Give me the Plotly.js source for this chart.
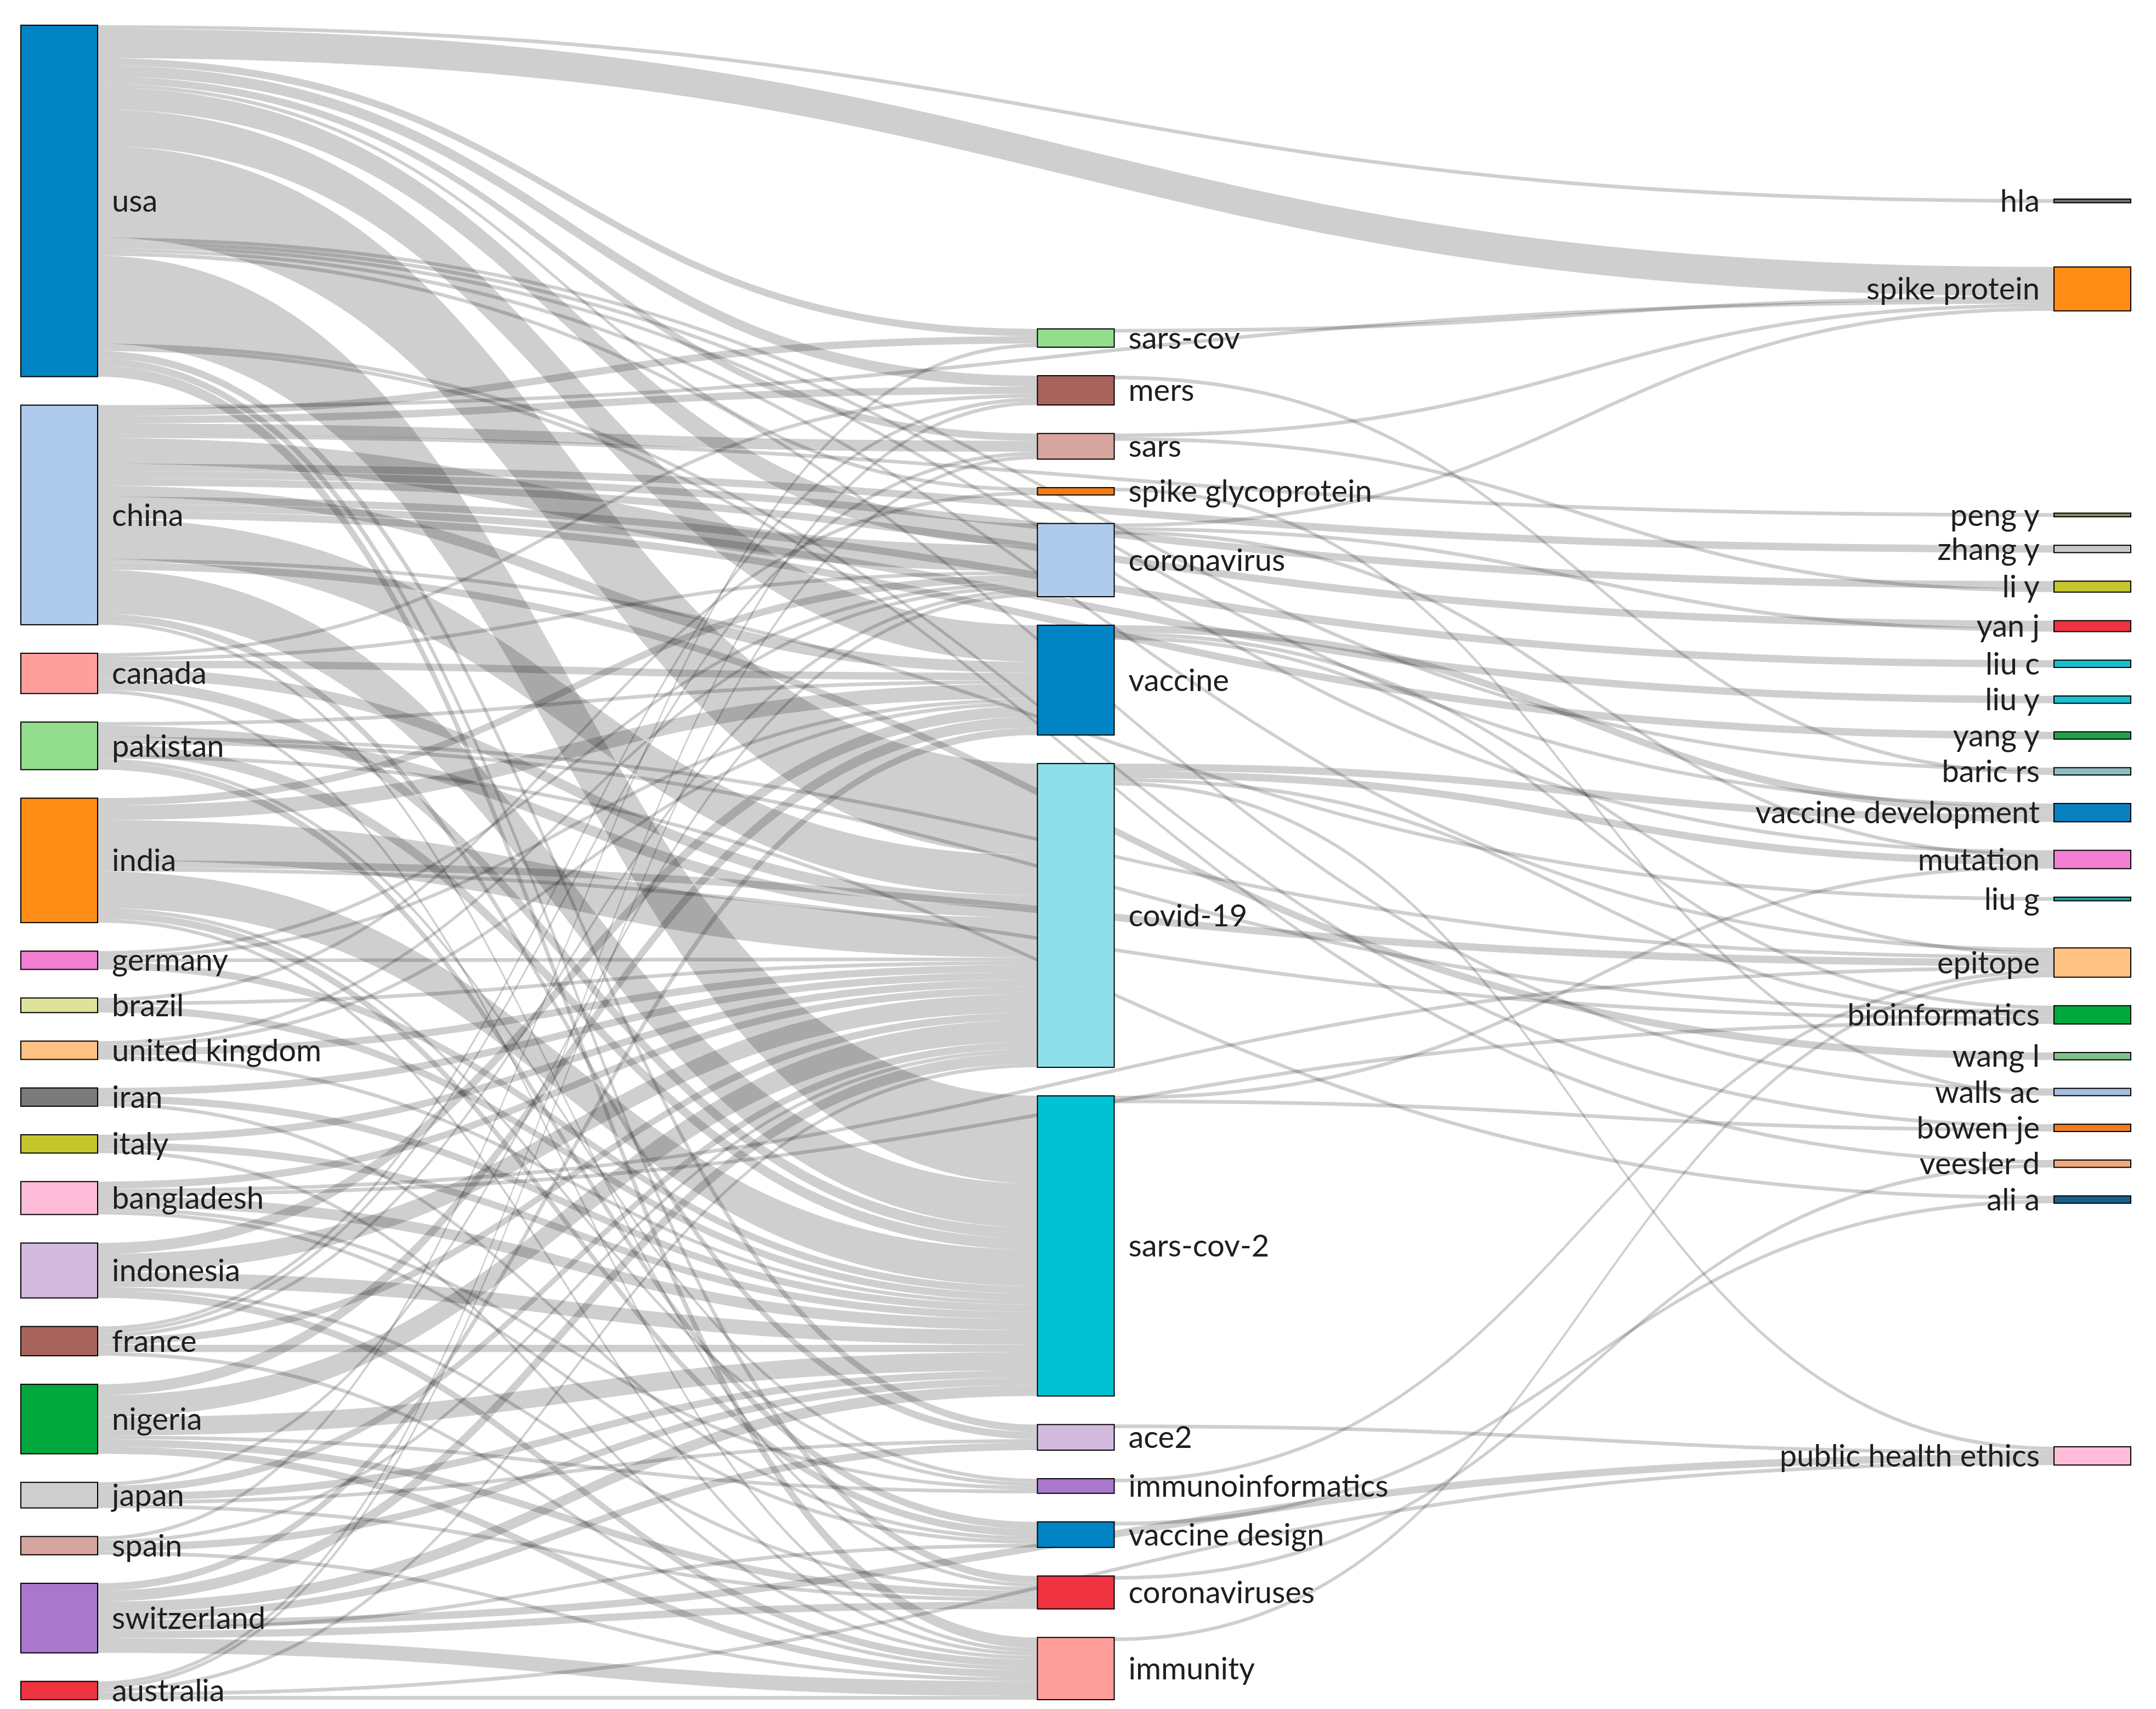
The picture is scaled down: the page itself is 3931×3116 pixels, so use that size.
<!DOCTYPE html>
<html>
<head>
<meta charset="utf-8">
<script src="https://cdn.plot.ly/plotly-3.0.1.min.js"></script>
<style>html,body{margin:0;padding:0;background:#ffffff;}</style>
</head>
<body>
<div id="chart" style="width:3931px;height:3116px;"></div>
<script>
// ---------------- DATA ----------------
const countries = ['usa','china','canada','pakistan','india','germany','brazil','united kingdom','iran','italy','bangladesh','indonesia','france','nigeria','japan','spain','switzerland','australia'];
const keywords = ['sars-cov','mers','sars','spike glycoprotein','coronavirus','vaccine','covid-19','sars-cov-2','ace2','immunoinformatics','vaccine design','coronaviruses','immunity'];
const topics = ['hla','spike protein','peng y','zhang y','li y','yan j','liu c','liu y','yang y','baric rs','vaccine development','mutation','liu g','epitope','bioinformatics','wang l','walls ac','bowen je','veesler d','ali a','public health ethics'];

// country -> keyword
const countryToKeyword = [
  ['usa','sars-cov',2],['usa','mers',3],['usa','sars',2],['usa','spike glycoprotein',1],['usa','coronavirus',6],['usa','vaccine',10],['usa','covid-19',25],['usa','sars-cov-2',24],['usa','ace2',2],['usa','coronaviruses',2],['usa','immunity',3],
  ['china','sars-cov',2],['china','mers',2],['china','sars',3],['china','coronavirus',7],['china','vaccine',3],['china','covid-19',11],['china','sars-cov-2',12],['china','ace2',2],['china','coronaviruses',1],
  ['canada','mers',1],['canada','coronavirus',1],['canada','vaccine',2],['canada','covid-19',3],['canada','sars-cov-2',3],['canada','immunity',1],
  ['pakistan','vaccine',1],['pakistan','covid-19',3],['pakistan','sars-cov-2',3],['pakistan','immunoinformatics',1],['pakistan','vaccine design',2],
  ['india','coronavirus',2],['india','vaccine',4],['india','covid-19',11],['india','sars-cov-2',10],['india','immunoinformatics',1],['india','vaccine design',2],['india','immunity',1],
  ['germany','coronavirus',1],['germany','vaccine',1],['germany','covid-19',1],['germany','sars-cov-2',2],
  ['brazil','spike glycoprotein',1],['brazil','covid-19',1],['brazil','sars-cov-2',2],
  ['united kingdom','coronavirus',1],['united kingdom','vaccine',1],['united kingdom','covid-19',2],['united kingdom','sars-cov-2',1],
  ['iran','covid-19',2],['iran','sars-cov-2',2],['iran','vaccine design',1],
  ['italy','covid-19',2],['italy','sars-cov-2',2],['italy','immunity',1],
  ['bangladesh','covid-19',2],['bangladesh','sars-cov-2',3],['bangladesh','immunoinformatics',1],['bangladesh','vaccine design',1],
  ['indonesia','vaccine',3],['indonesia','covid-19',5],['indonesia','sars-cov-2',4],['indonesia','coronaviruses',1],['indonesia','immunity',2],
  ['france','mers',1],['france','sars',1],['france','coronavirus',1],['france','covid-19',2],['france','sars-cov-2',2],['france','immunity',1],
  ['nigeria','vaccine',3],['nigeria','covid-19',6],['nigeria','sars-cov-2',5],['nigeria','immunoinformatics',1],['nigeria','coronaviruses',2],['nigeria','immunity',2],
  ['japan','coronavirus',1],['japan','covid-19',2],['japan','sars-cov-2',2],['japan','ace2',1],['japan','coronaviruses',1],
  ['spain','sars-cov',1],['spain','covid-19',1],['spain','sars-cov-2',2],['spain','immunity',1],
  ['switzerland','vaccine',2],['switzerland','covid-19',3],['switzerland','sars-cov-2',3],['switzerland','ace2',2],['switzerland','vaccine design',1],['switzerland','coronaviruses',2],['switzerland','immunity',4],
  ['australia','mers',1],['australia','sars',1],['australia','covid-19',1],['australia','immunity',1]
];

// keyword -> right field
const keywordToTopic = [
  ['sars-cov','spike protein',1],['mers','baric rs',1],['sars','li y',1],['sars','spike protein',1],['spike glycoprotein','walls ac',1],
  ['coronavirus','spike protein',1],['coronavirus','mutation',1],['coronavirus','yan j',1],
  ['vaccine','vaccine development',2],['vaccine','epitope',1],['vaccine','bioinformatics',1],
  ['covid-19','vaccine development',2],['covid-19','mutation',2],['covid-19','public health ethics',1],['covid-19','bioinformatics',1],
  ['sars-cov-2','mutation',1],['sars-cov-2','bowen je',1],
  ['ace2','public health ethics',1],['immunoinformatics','epitope',1],['vaccine design','ali a',1],['coronaviruses','veesler d',1],['immunity','epitope',1]
];

// country -> right field (direct)
const countryToTopic = [
  ['usa','hla',1],['usa','spike protein',8],['usa','baric rs',1],['usa','walls ac',1],['usa','veesler d',1],['usa','bowen je',1],['usa','vaccine development',1],['usa','mutation',1],['usa','epitope',1],
  ['china','peng y',1],['china','zhang y',2],['china','li y',2],['china','yan j',2],['china','liu c',2],['china','liu y',2],['china','yang y',2],['china','liu g',1],['china','wang l',2],['china','spike protein',1],
  ['india','epitope',2],['india','bioinformatics',1],
  ['pakistan','ali a',1],['pakistan','bioinformatics',1],['pakistan','epitope',1],
  ['bangladesh','epitope',1],['bangladesh','bioinformatics',1],
  ['switzerland','public health ethics',2],['australia','public health ethics',1]
];

// ---------------- STYLE ----------------
const nodeColors = {
  'usa':'#0084c3','china':'#aecbeb','canada':'#ff9f9b','pakistan':'#92de8d','india':'#ff8c14','germany':'#f27fd2','brazil':'#dde39b','united kingdom':'#ffc283','iran':'#7b7b7b','italy':'#c5c62c','bangladesh':'#ffbcd9','indonesia':'#d3badf','france':'#a8645c','nigeria':'#00a83d','japan':'#cecece','spain':'#d6a59e','switzerland':'#a978cc','australia':'#ef3340',
  'sars-cov':'#92de8d','mers':'#a8645c','sars':'#d6a59e','spike glycoprotein':'#ef7d18','coronavirus':'#aecbeb','vaccine':'#0084c3','covid-19':'#8fdfea','sars-cov-2':'#00c2d4','ace2':'#d3badf','immunoinformatics':'#a978cc','vaccine design':'#0084c3','coronaviruses':'#ef3340','immunity':'#ff9f9b',
  'hla':'#6e6e6e','spike protein':'#ff8c14','peng y':'#8c8c5c','zhang y':'#c9c9c9','li y':'#c5c62c','yan j':'#ef3340','liu c':'#17bfd0','liu y':'#17bfd0','yang y':'#1fa34a','baric rs':'#8fbcc4','vaccine development':'#0a7fc0','mutation':'#f27fd2','liu g':'#1fa0ad','epitope':'#ffc283','bioinformatics':'#00a83d','wang l':'#7fc28a','walls ac':'#a6bfdc','bowen je':'#f07c1e','veesler d':'#f0aa80','ali a':'#1d5f8c','public health ethics':'#ffbcd9'
};
function darker(hex, f) {
  const n = parseInt(hex.slice(1), 16);
  const r = Math.round(((n >> 16) & 255) * f), g = Math.round(((n >> 8) & 255) * f), b = Math.round((n & 255) * f);
  return 'rgb(' + r + ',' + g + ',' + b + ')';
}

const margin = {l: 38, r: 46, t: 46, b: 17};
const FIG_W = 3931, FIG_H = 3116;
const W = FIG_W - margin.l - margin.r, H = FIG_H - margin.t - margin.b;
const pad = 52, thick = 140, labelGap = 22;

// ---------------- BUILD ----------------
const labels = countries.concat(keywords, topics);
const idx = {};
labels.forEach((l, i) => { idx[l] = i; });
const allLinks = countryToKeyword.concat(keywordToTopic, countryToTopic);
const n = labels.length;
const inSum = new Array(n).fill(0), outSum = new Array(n).fill(0);
allLinks.forEach(([s, t, v]) => { outSum[idx[s]] += v; inSum[idx[t]] += v; });
const val = labels.map((_, i) => Math.max(inSum[i], outSum[i]));
const cols = [countries, keywords, topics];
const ky = Math.min.apply(null, cols.map(c => (H - (c.length - 1) * pad) / c.reduce((a, l) => a + val[idx[l]], 0)));
const hgt = val.map(v => v * ky);
const cy = new Array(n).fill(0);

// first column: stacked from the top
let yy = 0;
countries.forEach(l => { const i = idx[l]; cy[i] = yy + hgt[i] / 2; yy += hgt[i] + pad; });
// second column: stacked, aligned to the bottom
const midTotal = keywords.reduce((a, l) => a + hgt[idx[l]], 0) + (keywords.length - 1) * pad;
yy = H - midTotal;
keywords.forEach(l => { const i = idx[l]; cy[i] = yy + hgt[i] / 2; yy += hgt[i] + pad; });
// third column: each node pulled to the weighted centre of its sources, order kept, collisions resolved
const ideal = topics.map(l => {
  let s = 0, w = 0;
  allLinks.forEach(([a, b, v]) => { if (b === l) { s += cy[idx[a]] * v; w += v; } });
  return s / w;
});
const top0 = [];
let prevBottom = -Infinity;
topics.forEach((l, k) => {
  const i = idx[l];
  const t = Math.max(ideal[k] - hgt[i] / 2, prevBottom + pad, 0);
  top0[k] = t; prevBottom = t + hgt[i];
});
let limit = H;
for (let k = topics.length - 1; k >= 0; k--) {
  const i = idx[topics[k]];
  if (top0[k] + hgt[i] > limit) top0[k] = limit - hgt[i];
  limit = top0[k] - pad;
}
topics.forEach((l, k) => { const i = idx[l]; cy[i] = top0[k] + hgt[i] / 2; });

const colX = [thick / 2 / W, 0.5, 1 - thick / 2 / W];
const nodeX = labels.map(l => countries.includes(l) ? colX[0] : (keywords.includes(l) ? colX[1] : colX[2]));
const nodeY = cy.map(c => c / H);

const trace = {
  type: 'sankey',
  arrangement: 'fixed',
  orientation: 'h',
  node: {
    label: labels,
    x: nodeX,
    y: nodeY,
    pad: pad,
    thickness: thick,
    color: labels.map(l => nodeColors[l]),
    line: {color: labels.map(l => darker(nodeColors[l], 0.8)), width: 2},
    hoverinfo: 'none'
  },
  link: {
    source: allLinks.map(d => idx[d[0]]),
    target: allLinks.map(d => idx[d[1]]),
    value: allLinks.map(d => d[2]),
    color: 'rgba(0,0,0,0.19)',
    hoverinfo: 'none'
  },
  textfont: {family: 'Lato, "Open Sans", sans-serif', size: 56, color: '#1e1e1e', shadow: 'none'}
};

const layout = {
  width: FIG_W, height: FIG_H,
  margin: margin,
  paper_bgcolor: '#ffffff',
  plot_bgcolor: '#ffffff',
  showlegend: false
};

Plotly.newPlot('chart', [trace], layout, {staticPlot: true, displayModeBar: false}).then(gd => {
  // widen the gap between node and its label a little
  gd.querySelectorAll('.node-label').forEach(t => {
    const anchor = t.getAttribute('text-anchor') || t.style.textAnchor;
    const shift = anchor === 'end' ? -labelGap : labelGap;
    const tr = t.getAttribute('transform') || '';
    t.setAttribute('transform', tr + ' translate(' + shift + ',0)');
  });
});
</script>
</body>
</html>
